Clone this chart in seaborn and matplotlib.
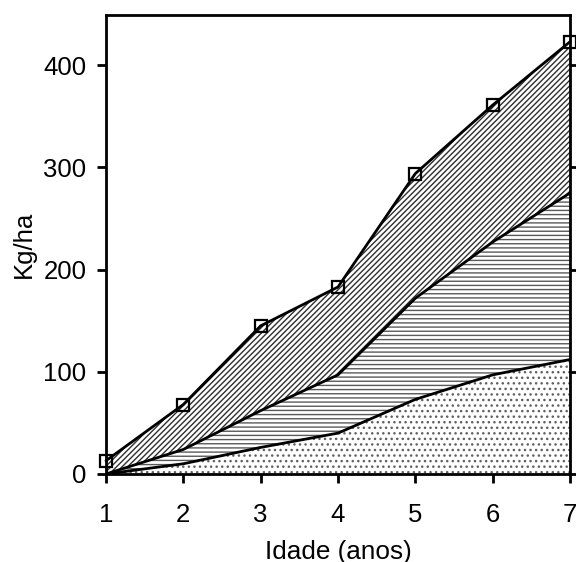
import matplotlib
matplotlib.use("Agg")
import matplotlib.pyplot as plt
import seaborn as sns
import pandas as pd

idade = [1, 2, 3, 4, 5, 6, 7]
camada_inferior = [0, 10, 26, 40, 73, 97, 112]
camada_media = [0, 24, 62, 97, 172, 227, 275]
total = [13, 68, 145, 183, 294, 361, 423]

xticks = [1, 2, 3, 4, 5, 6, 7]
yticks = [0, 100, 200, 300, 400]

sns.set_style("ticks")
plt.rcParams['font.family'] = ['Liberation Sans', 'DejaVu Sans']
plt.rcParams['hatch.linewidth'] = 1.0

df = pd.DataFrame({"idade": idade, "inf": camada_inferior,
                   "med": camada_media, "tot": total})

fig = plt.figure(figsize=(5.76, 5.62), dpi=100)
ax = fig.add_axes([0.184, 0.1566, 0.8056, 0.8164])

ax.fill_between(df["idade"], 0, df["inf"], facecolor="white",
                edgecolor="#606060", hatch="...", linewidth=0)
ax.fill_between(df["idade"], df["inf"], df["med"], facecolor="white",
                edgecolor="#5a5a5a", hatch="----", linewidth=0)
ax.fill_between(df["idade"], df["med"], df["tot"], facecolor="white",
                edgecolor="#303030", hatch="//////", linewidth=0)

sns.lineplot(data=df, x="idade", y="inf", ax=ax, color="black", lw=2.0)
sns.lineplot(data=df, x="idade", y="med", ax=ax, color="black", lw=2.0)
sns.lineplot(data=df, x="idade", y="tot", ax=ax, color="black", lw=2.0,
             marker="s", markersize=8.5, markerfacecolor="none",
             markeredgecolor="black", markeredgewidth=1.6, clip_on=False)

ax.set_xlim(1, 7)
ax.set_ylim(0, 449)
ax.set_xticks(xticks)
ax.set_yticks(yticks)
for s in ax.spines.values():
    s.set_linewidth(2.0)
    s.set_color("black")
ax.tick_params(axis="both", direction="out", length=6.4, width=2.0,
               labelsize=18.5, colors="black")
ax.tick_params(axis="y", right=True, pad=7.7)
ax.tick_params(axis="x", pad=14.5)
ax.set_xlabel("Idade (anos)", fontsize=18.8, labelpad=9, color="black")
ax.set_ylabel("Kg/ha", fontsize=18.5, labelpad=5, color="black")

fig.savefig("out.png", dpi=100)
